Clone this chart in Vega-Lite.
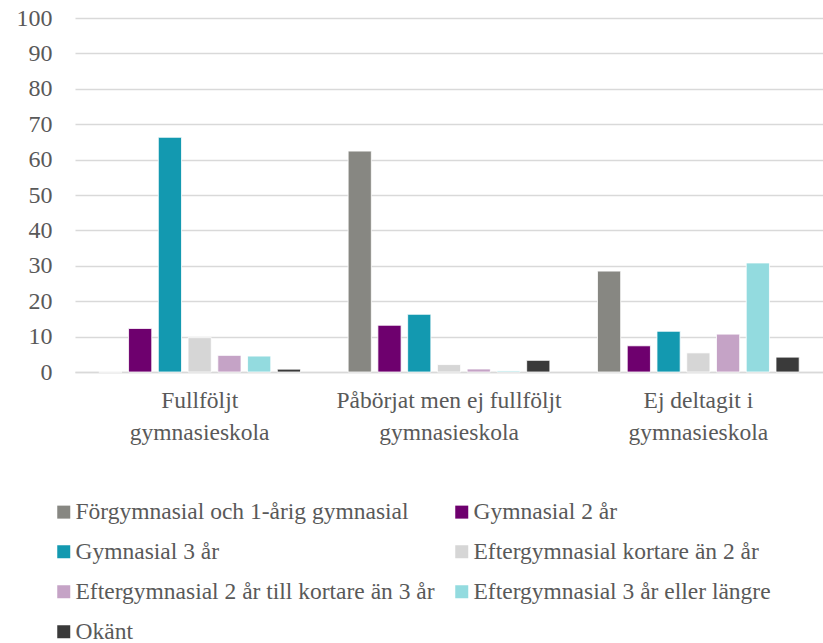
{
  "$schema": "https://vega.github.io/schema/vega-lite/v6.json",
  "autosize": "none",
  "width": 748,
  "height": 354,
  "padding": {"left": 75, "top": 18, "right": 0, "bottom": 271},
  "background": "white",
  "config": {
    "view": {"stroke": null},
    "font": "Liberation Serif",
    "text": {"font": "Liberation Serif"}
  },
  "data": {
    "values": [
      {"grupp": "Fullföljt gymnasieskola", "utb": "Förgymnasial och 1-årig gymnasial", "andel": 0},
      {"grupp": "Fullföljt gymnasieskola", "utb": "Gymnasial 2 år", "andel": 12.3},
      {"grupp": "Fullföljt gymnasieskola", "utb": "Gymnasial 3 år", "andel": 66.3},
      {"grupp": "Fullföljt gymnasieskola", "utb": "Eftergymnasial kortare än 2 år", "andel": 9.7},
      {"grupp": "Fullföljt gymnasieskola", "utb": "Eftergymnasial 2 år till kortare än 3 år", "andel": 4.7},
      {"grupp": "Fullföljt gymnasieskola", "utb": "Eftergymnasial 3 år eller längre", "andel": 4.5},
      {"grupp": "Fullföljt gymnasieskola", "utb": "Okänt", "andel": 0.8},
      {"grupp": "Påbörjat men ej fullföljt gymnasieskola", "utb": "Förgymnasial och 1-årig gymnasial", "andel": 62.4},
      {"grupp": "Påbörjat men ej fullföljt gymnasieskola", "utb": "Gymnasial 2 år", "andel": 13.2},
      {"grupp": "Påbörjat men ej fullföljt gymnasieskola", "utb": "Gymnasial 3 år", "andel": 16.3},
      {"grupp": "Påbörjat men ej fullföljt gymnasieskola", "utb": "Eftergymnasial kortare än 2 år", "andel": 2.1},
      {"grupp": "Påbörjat men ej fullföljt gymnasieskola", "utb": "Eftergymnasial 2 år till kortare än 3 år", "andel": 0.85},
      {"grupp": "Påbörjat men ej fullföljt gymnasieskola", "utb": "Eftergymnasial 3 år eller längre", "andel": 0.3},
      {"grupp": "Påbörjat men ej fullföljt gymnasieskola", "utb": "Okänt", "andel": 3.3},
      {"grupp": "Ej deltagit i gymnasieskola", "utb": "Förgymnasial och 1-årig gymnasial", "andel": 28.5},
      {"grupp": "Ej deltagit i gymnasieskola", "utb": "Gymnasial 2 år", "andel": 7.4},
      {"grupp": "Ej deltagit i gymnasieskola", "utb": "Gymnasial 3 år", "andel": 11.5},
      {"grupp": "Ej deltagit i gymnasieskola", "utb": "Eftergymnasial kortare än 2 år", "andel": 5.4},
      {"grupp": "Ej deltagit i gymnasieskola", "utb": "Eftergymnasial 2 år till kortare än 3 år", "andel": 10.7},
      {"grupp": "Ej deltagit i gymnasieskola", "utb": "Eftergymnasial 3 år eller längre", "andel": 30.8},
      {"grupp": "Ej deltagit i gymnasieskola", "utb": "Okänt", "andel": 4.2}
    ]
  },
  "mark": {"type": "bar", "stroke": "white", "strokeWidth": 0.8},
  "encoding": {
    "x": {
      "field": "grupp",
      "type": "nominal",
      "sort": ["Fullföljt gymnasieskola", "Påbörjat men ej fullföljt gymnasieskola", "Ej deltagit i gymnasieskola"],
      "scale": {"paddingInner": 0, "paddingOuter": 0},
      "axis": {
        "title": null,
        "labelAngle": 0,
        "labelFont": "Liberation Serif",
        "labelFontSize": 23.5,
        "labelColor": "#595959",
        "labelLineHeight": 32,
        "labelPadding": 16,
        "labelLimit": 400,
        "labelExpr": "[replace(datum.label, ' gymnasieskola', ''), 'gymnasieskola']",
        "ticks": false,
        "domainColor": "#d9d9d9",
        "domainWidth": 1.5
      }
    },
    "xOffset": {
      "field": "utb",
      "type": "nominal",
      "sort": ["Förgymnasial och 1-årig gymnasial", "Gymnasial 2 år", "Gymnasial 3 år", "Eftergymnasial kortare än 2 år", "Eftergymnasial 2 år till kortare än 3 år", "Eftergymnasial 3 år eller längre", "Okänt"],
      "scale": {"paddingInner": 0.22, "paddingOuter": 0.8}
    },
    "y": {
      "field": "andel",
      "type": "quantitative",
      "scale": {"domain": [0, 100], "nice": false},
      "axis": {
        "title": null,
        "values": [0, 10, 20, 30, 40, 50, 60, 70, 80, 90, 100],
        "labelFont": "Liberation Serif",
        "labelFontSize": 24,
        "labelColor": "#595959",
        "labelPadding": 23,
        "ticks": false,
        "domain": false,
        "gridColor": "#d9d9d9",
        "gridWidth": 1.5
      }
    },
    "color": {
      "field": "utb",
      "type": "nominal",
      "scale": {
        "domain": ["Förgymnasial och 1-årig gymnasial", "Gymnasial 2 år", "Gymnasial 3 år", "Eftergymnasial kortare än 2 år", "Eftergymnasial 2 år till kortare än 3 år", "Eftergymnasial 3 år eller längre", "Okänt"],
        "range": ["#878782", "#6e006e", "#1399b0", "#d6d6d6", "#c5a3c6", "#93dbdf", "#3a3a3a"]
      },
      "legend": {
        "title": null,
        "orient": "none",
        "legendX": -23,
        "legendY": 482,
        "direction": "horizontal",
        "columns": 2,
        "columnPadding": 15,
        "rowPadding": 15,
        "symbolType": "square",
        "symbolSize": 169,
        "symbolStrokeWidth": 0,
        "symbolOffset": 0,
        "labelFont": "Liberation Serif",
        "labelFontSize": 23.5,
        "labelColor": "#595959",
        "labelOffset": 0,
        "labelLimit": 500
      }
    }
  }
}
